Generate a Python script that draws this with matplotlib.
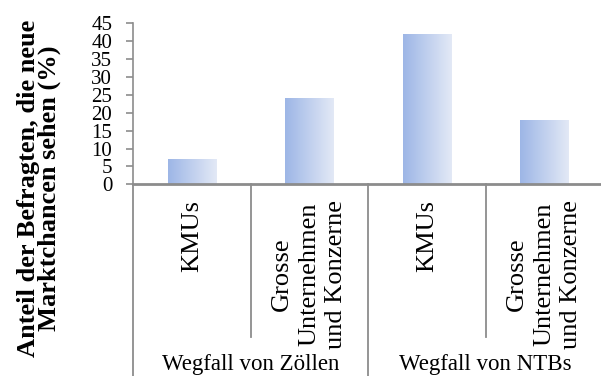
import numpy as np
import matplotlib
matplotlib.use("Agg")
import matplotlib.pyplot as plt
from matplotlib.colors import LinearSegmentedColormap

plt.rcParams['font.family'] = ['Liberation Serif', 'DejaVu Serif']

groups = ['Wegfall von Zöllen', 'Wegfall von NTBs']
categories = ['KMUs', 'Grosse\nUnternehmen\nund Konzerne',
              'KMUs', 'Grosse\nUnternehmen\nund Konzerne']
values = [7, 24, 42, 18]
yticks = [0, 5, 10, 15, 20, 25, 30, 35, 40, 45]
ylabel = 'Anteil der Befragten, die neue\nMarktchancen sehen (%)'

grid_col = '#8c8c8c'
grad = LinearSegmentedColormap.from_list('bluefade', ['#9db6e6', '#e3e9f6'])

fig = plt.figure(figsize=(6.01, 3.76), dpi=100)
ax = fig.add_axes([133 / 601, 0.5098, 470 / 601, 0.428])

x = np.arange(len(values))
bars = ax.bar(x, values, width=0.41, facecolor='none', edgecolor='none')
ramp = np.linspace(0, 1, 256).reshape(1, -1)
for b in bars:
    im = ax.imshow(ramp, cmap=grad, aspect='auto', zorder=2,
                   extent=[b.get_x(), b.get_x() + b.get_width(), 0, b.get_height()])
    im.set_clip_path(b)

ax.set_xlim(-0.5, 3.5)
ax.set_ylim(0, 45)
ax.set_yticks(yticks)
ax.tick_params(axis='y', labelsize=15, length=5, width=1.2, color=grid_col, pad=10)
ax.set_xticks([])
for s in ['top', 'right']:
    ax.spines[s].set_visible(False)
ax.spines['left'].set_color(grid_col)
ax.spines['left'].set_linewidth(1.2)
ax.spines['bottom'].set_color(grid_col)
ax.spines['bottom'].set_linewidth(2)

# category axis below the bars
tr = ax.get_xaxis_transform()
for xd in [0.5, 2.5]:
    ax.plot([xd, xd], [0, -0.947], transform=tr, color=grid_col, lw=1.3, clip_on=False)
for xd in [-0.5, 1.5]:
    ax.plot([xd, xd], [0, -1.2], transform=tr, color=grid_col, lw=1.3, clip_on=False)

for xi, lab in zip(x, categories):
    ax.text(xi, -0.097, lab, transform=tr, rotation=90, ha='center', va='top',
            multialignment='center', fontsize=19, linespacing=1.3)
for gi, g in enumerate(groups):
    ax.text(gi * 2 + 0.5, -1.155, g, transform=tr, ha='center', va='baseline',
            fontsize=16.5)

fig.text(39 / 601, 0.5, ylabel, rotation=90, ha='center', va='center',
         fontsize=19, fontweight='bold', multialignment='center', linespacing=0.92)

fig.savefig('out.png', dpi=100)
